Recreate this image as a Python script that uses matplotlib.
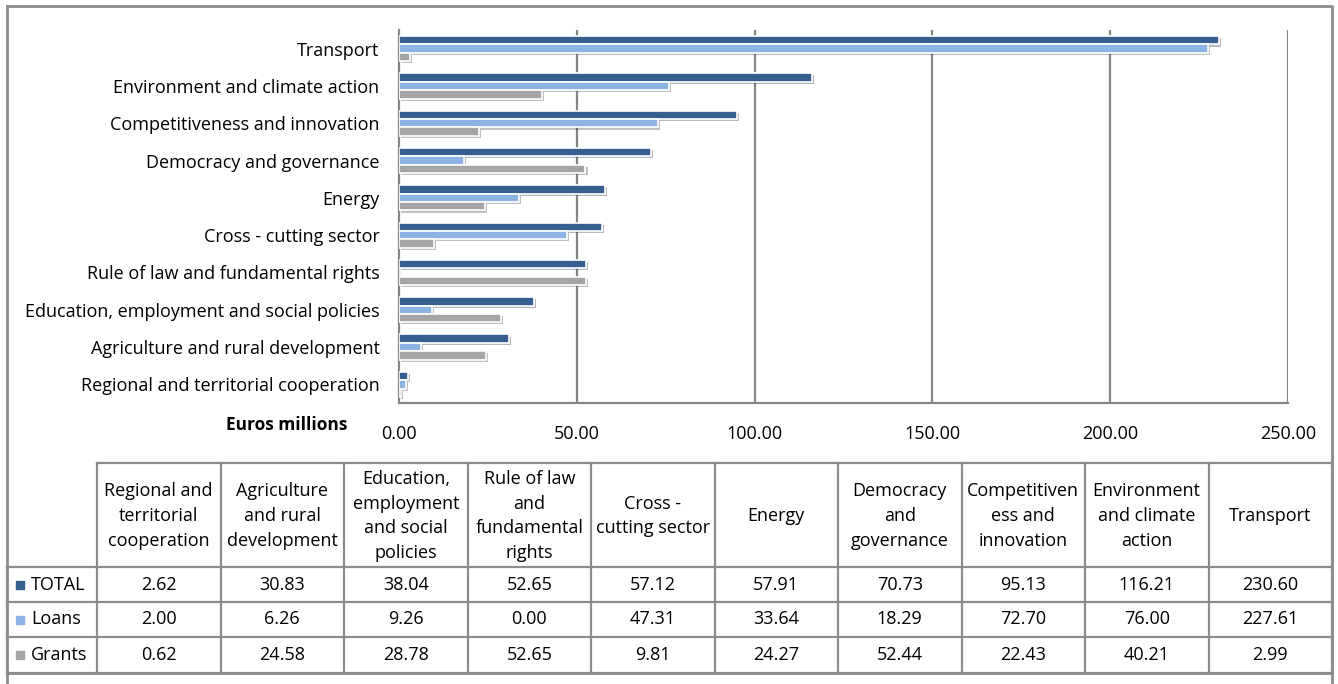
import matplotlib.pyplot as plt
import matplotlib.patheffects as pe
import numpy as np

plt.rcParams['font.family'] = ['Open Sans', 'DejaVu Sans']
FS = 13

categories = ['Regional and territorial cooperation', 'Agriculture and rural development',
              'Education, employment and social policies', 'Rule of law and fundamental rights',
              'Cross - cutting sector', 'Energy', 'Democracy and governance',
              'Competitiveness and innovation', 'Environment and climate action', 'Transport']
col_labels = ['Regional and\nterritorial\ncooperation', 'Agriculture\nand rural\ndevelopment',
              'Education,\nemployment\nand social\npolicies', 'Rule of law\nand\nfundamental\nrights',
              'Cross -\ncutting sector', 'Energy', 'Democracy\nand\ngovernance',
              'Competitiven\ness and\ninnovation', 'Environment\nand climate\naction', 'Transport']
total = [2.62, 30.83, 38.04, 52.65, 57.12, 57.91, 70.73, 95.13, 116.21, 230.60]
loans = [2.00, 6.26, 9.26, 0.00, 47.31, 33.64, 18.29, 72.70, 76.00, 227.61]
grants = [0.62, 24.58, 28.78, 52.65, 9.81, 24.27, 52.44, 22.43, 40.21, 2.99]
series = ['TOTAL', 'Loans', 'Grants']
colors = ['#365F91', '#8DB3E2', '#A5A5A5']

W, H = 1338, 684
fig = plt.figure(figsize=(W / 100, H / 100), dpi=100)

# bar chart
ax = fig.add_axes([399 / W, 1 - 403 / H, (1288 - 399) / W, (403 - 30) / H])
y = np.arange(len(categories))
h = 0.225
shadow = [pe.SimplePatchShadow(offset=(1.5, -1.5), alpha=0.3), pe.Normal()]
for vals, off, c in zip([total, loans, grants], [h, 0, -h], colors):
    bars = ax.barh(y + off, vals, height=h, color=c, edgecolor='white', linewidth=1.2, zorder=3)
    for b in bars:
        b.set_path_effects(shadow)
ax.set_xlim(0, 250)
ax.set_ylim(-0.5, 9.5)
ax.set_yticks(y)
ax.set_yticklabels(categories, fontsize=FS)
ax.set_xticks(np.arange(0, 251, 50))
ax.set_xticklabels(['%.2f' % v for v in np.arange(0, 251, 50)], fontsize=FS)
ax.tick_params(axis='y', length=0, pad=14)
ax.tick_params(axis='x', length=0, pad=16)
for x in [50, 100, 150, 200, 250]:
    ax.axvline(x, color='#868686', lw=1.6, zorder=1)
for s in ['top', 'right']:
    ax.spines[s].set_visible(False)
for s in ['left', 'bottom']:
    ax.spines[s].set_color('#868686')
    ax.spines[s].set_linewidth(1.6)

# table and frame drawn in pixel coordinates
tab = fig.add_axes([0, 0, 1, 1])
tab.set_xlim(0, W)
tab.set_ylim(H, 0)
tab.axis('off')
lc = '#8C8C8C'
tab.plot([7, 1332, 1332], [6, 6, 690], color=lc, lw=2)
tab.plot([7, 7], [6, 690], color=lc, lw=2)
tab.plot([7, 1332], [673, 673], color=lc, lw=2)

tab.text(347, 425, 'Euros millions', fontsize=FS - 0.5, fontweight='bold', ha='right', va='center')

left, cw = 97, 123.5
edges = [left + i * cw for i in range(len(categories) + 1)]
rows = [463, 567, 602, 637, 673]
for x in edges:
    tab.plot([x, x], [rows[0], rows[-1]], color=lc, lw=1.6)
tab.plot([7, 7], [rows[1], rows[-1]], color=lc, lw=1.6)
tab.plot([left, edges[-1]], [rows[0], rows[0]], color=lc, lw=1.6)
for r in rows[1:]:
    tab.plot([7, edges[-1]], [r, r], color=lc, lw=1.6)

for i, lab in enumerate(col_labels):
    tab.text(left + (i + 0.5) * cw, (rows[0] + rows[1]) / 2 + 1, lab, fontsize=FS,
             ha='center', va='center', linespacing=1.48)

for j, (name, vals, c) in enumerate(zip(series, [total, loans, grants], colors)):
    yc = (rows[j + 1] + rows[j + 2]) / 2
    tab.scatter([20], [yc], marker='s', s=40, color=c)
    tab.text(31, yc, name, fontsize=FS, ha='left', va='center')
    for i, v in enumerate(vals):
        tab.text(left + (i + 0.5) * cw, yc, '%.2f' % v, fontsize=FS, ha='center', va='center')

fig.savefig('out.png', dpi=100)
